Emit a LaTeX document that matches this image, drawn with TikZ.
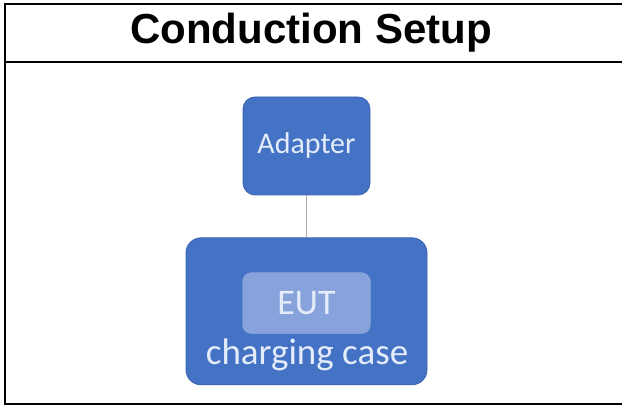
\documentclass[tikz,border=0pt]{standalone}
\usepackage{fontspec}
\setmainfont{Liberation Sans}
\newfontfamily\calibri{Carlito}
\usetikzlibrary{positioning}
\definecolor{boxblue}{RGB}{68,114,196}
\definecolor{boxedge}{RGB}{58,98,176}
\definecolor{eutblue}{RGB}{136,162,220}
\definecolor{textpale}{RGB}{228,236,250}
\definecolor{wiregray}{RGB}{170,170,170}

\begin{document}
\begin{tikzpicture}[x=1pt, y=-1pt, node distance = 42pt,
	blk/.style={rectangle, rounded corners=12pt, fill=boxblue, draw=boxedge, line width=0.8pt, text=textpale, inner sep=0pt},
	eut/.style={rectangle, rounded corners=9pt, fill=eutblue, draw=eutblue, text=textpale, inner sep=0pt, minimum width=128pt, minimum height=61pt},
	wire/.style={draw=wiregray, line width=1pt}]
\useasboundingbox (0,0) rectangle (622,406);
% frame
\draw[line width=2pt] (624,4) -- (5,4) -- (5,404) -- (624,404);
\draw[line width=2pt] (5,62) -- (624,62);
\node[font=\bfseries\fontsize{42}{46}\selectfont] (title) at (311,33) {Conduction Setup};

\node[blk, minimum width=127pt, minimum height=98pt, font=\calibri\fontsize{30}{32}\selectfont] (adapter) at (306.5,146) {Adapter};
\node[blk, rounded corners=15pt, minimum width=241pt, minimum height=147pt, below = of adapter] (case) {};
\node[eut, below = 35pt of case.north, font=\calibri\fontsize{36}{40}\selectfont] (eut) {EUT};
\node[anchor=base, text=textpale, font=\calibri\fontsize{37}{40}\selectfont] (caselabel) at (307,365) {charging case};

\draw[wire] (adapter) -- (case);
\end{tikzpicture}
\end{document}
